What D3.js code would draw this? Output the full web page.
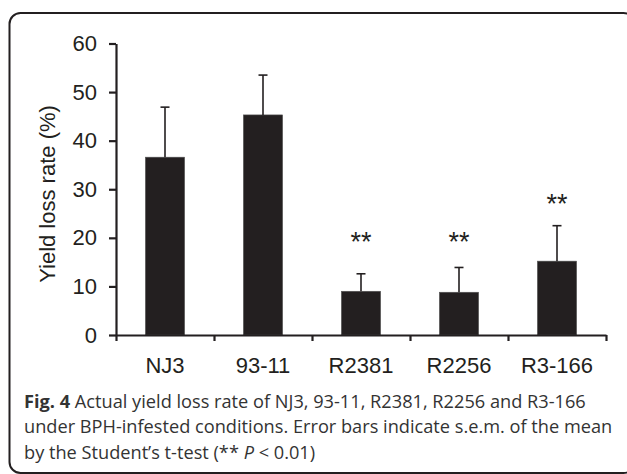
<!DOCTYPE html>
<html>
<head>
<meta charset="utf-8">
<script src="https://cdn.jsdelivr.net/npm/d3@7"></script>
<style>
  body { margin: 0; background: #fff; }
  svg { display: block; }
</style>
</head>
<body>
<svg id="chart" width="627" height="474"></svg>
<script>
// values
var lines = ["NJ3", "93-11", "R2381", "R2256", "R3-166"];
var lossRate = [36.6, 45.3, 9.0, 8.8, 15.2];
var semErr = [10.3, 8.2, 3.6, 5.1, 7.3];
var sigMark = ["", "", "**", "**", "**"];
var sigLevel = [null, null, 20.3, 20.3, 28.1];
var yTicks = [0, 10, 20, 30, 40, 50, 60];

var ink = "#231f20";
var svg = d3.select("#chart");

// frame round the figure
svg.append("rect")
  .attr("x", 9.5).attr("y", 13)
  .attr("width", 625).attr("height", 460)
  .attr("rx", 11).attr("ry", 11)
  .attr("fill", "none")
  .attr("stroke", ink)
  .attr("stroke-width", 2);

var plotLeft = 116, plotRight = 606, plotTop = 43.5, plotBottom = 335;

var x = d3.scaleBand()
  .domain(lines)
  .range([plotLeft, plotRight])
  .paddingInner(0.6)
  .paddingOuter(0.3);

var y = d3.scaleLinear()
  .domain([0, 60])
  .range([plotBottom, plotTop]);

var g = svg.append("g");

// bars
g.selectAll(".bar")
  .data(lines)
  .enter().append("rect")
  .attr("class", "bar")
  .attr("x", function(d) { return x(d); })
  .attr("y", function(d, i) { return y(lossRate[i]); })
  .attr("width", x.bandwidth())
  .attr("height", function(d, i) { return y(0) - y(lossRate[i]); })
  .attr("fill", ink)
  .attr("stroke", "#555")
  .attr("stroke-width", 0.6);

// error bars, upper half only
var err = g.selectAll(".err")
  .data(lines)
  .enter().append("g")
  .attr("class", "err")
  .attr("stroke", ink)
  .attr("stroke-width", 1.6);

err.append("line")
  .attr("x1", function(d) { return x(d) + x.bandwidth() / 2; })
  .attr("x2", function(d) { return x(d) + x.bandwidth() / 2; })
  .attr("y1", function(d, i) { return y(lossRate[i]); })
  .attr("y2", function(d, i) { return y(lossRate[i] + semErr[i]); });

err.append("line")
  .attr("x1", function(d) { return x(d) + x.bandwidth() / 2 - 4.5; })
  .attr("x2", function(d) { return x(d) + x.bandwidth() / 2 + 4.5; })
  .attr("y1", function(d, i) { return y(lossRate[i] + semErr[i]); })
  .attr("y2", function(d, i) { return y(lossRate[i] + semErr[i]); });

// significance stars
g.selectAll(".sig")
  .data(lines.filter(function(d, i) { return sigMark[i] !== ""; }))
  .enter().append("text")
  .attr("class", "sig")
  .attr("x", function(d) { return x(d) + x.bandwidth() / 2; })
  .attr("y", function(d) { return y(sigLevel[lines.indexOf(d)]) + 14.5; })
  .attr("text-anchor", "middle")
  .style("font-family", "'Liberation Sans', Arial, sans-serif")
  .style("font-size", "27px")
  .attr("fill", ink)
  .text(function(d) { return sigMark[lines.indexOf(d)]; });

// axes
var yAxis = g.append("g")
  .attr("transform", "translate(" + plotLeft + ",0)")
  .call(d3.axisLeft(y).tickValues(yTicks).tickSize(7).tickPadding(12).tickSizeOuter(0));

var xAxis = g.append("g")
  .attr("transform", "translate(0," + plotBottom + ")")
  .call(d3.axisBottom(d3.scalePoint().domain(d3.range(6)).range([plotLeft, plotRight]))
        .tickSize(6).tickFormat("").tickSizeOuter(0));

g.append("g")
  .attr("transform", "translate(0," + plotBottom + ")")
  .selectAll("text")
  .data(lines)
  .enter().append("text")
  .attr("x", function(d) { return x(d) + x.bandwidth() / 2; })
  .attr("y", 38)
  .attr("text-anchor", "middle")
  .attr("fill", ink)
  .style("font-family", "'Liberation Sans', Arial, sans-serif")
  .style("font-size", "22px")
  .text(function(d) { return d; });

[yAxis, xAxis].forEach(function(a) {
  a.select(".domain").attr("stroke", ink).attr("stroke-width", 2.2);
  a.selectAll(".tick line").attr("stroke", ink).attr("stroke-width", 2.2);
  a.selectAll(".tick text")
    .attr("fill", ink)
    .style("font-family", "'Liberation Sans', Arial, sans-serif")
    .style("font-size", "22px");
});

// y axis title
svg.append("text")
  .attr("transform", "translate(55,194) rotate(-90)")
  .attr("text-anchor", "middle")
  .attr("fill", ink)
  .style("font-family", "'Liberation Sans', Arial, sans-serif")
  .style("font-size", "22px")
  .text("Yield loss rate (%)");

// caption
var cap = svg.append("text")
  .attr("fill", "#333")
  .style("font-family", "'Open Sans', sans-serif")
  .style("font-size", "18.2px");

var l1 = cap.append("tspan").attr("x", 24).attr("y", 407.5);
l1.append("tspan").style("font-weight", "bold").text("Fig. 4");
l1.append("tspan").text(" Actual yield loss rate of NJ3, 93-11, R2381, R2256 and R3-166");

cap.append("tspan").attr("x", 24).attr("y", 433)
  .text("under BPH-infested conditions. Error bars indicate s.e.m. of the mean");

var l3 = cap.append("tspan").attr("x", 24).attr("y", 458.5);
l3.append("tspan").text("by the Student\u2019s t-test (** ");
l3.append("tspan").style("font-style", "italic").text("P");
l3.append("tspan").text(" < 0.01)");
</script>
</body>
</html>
